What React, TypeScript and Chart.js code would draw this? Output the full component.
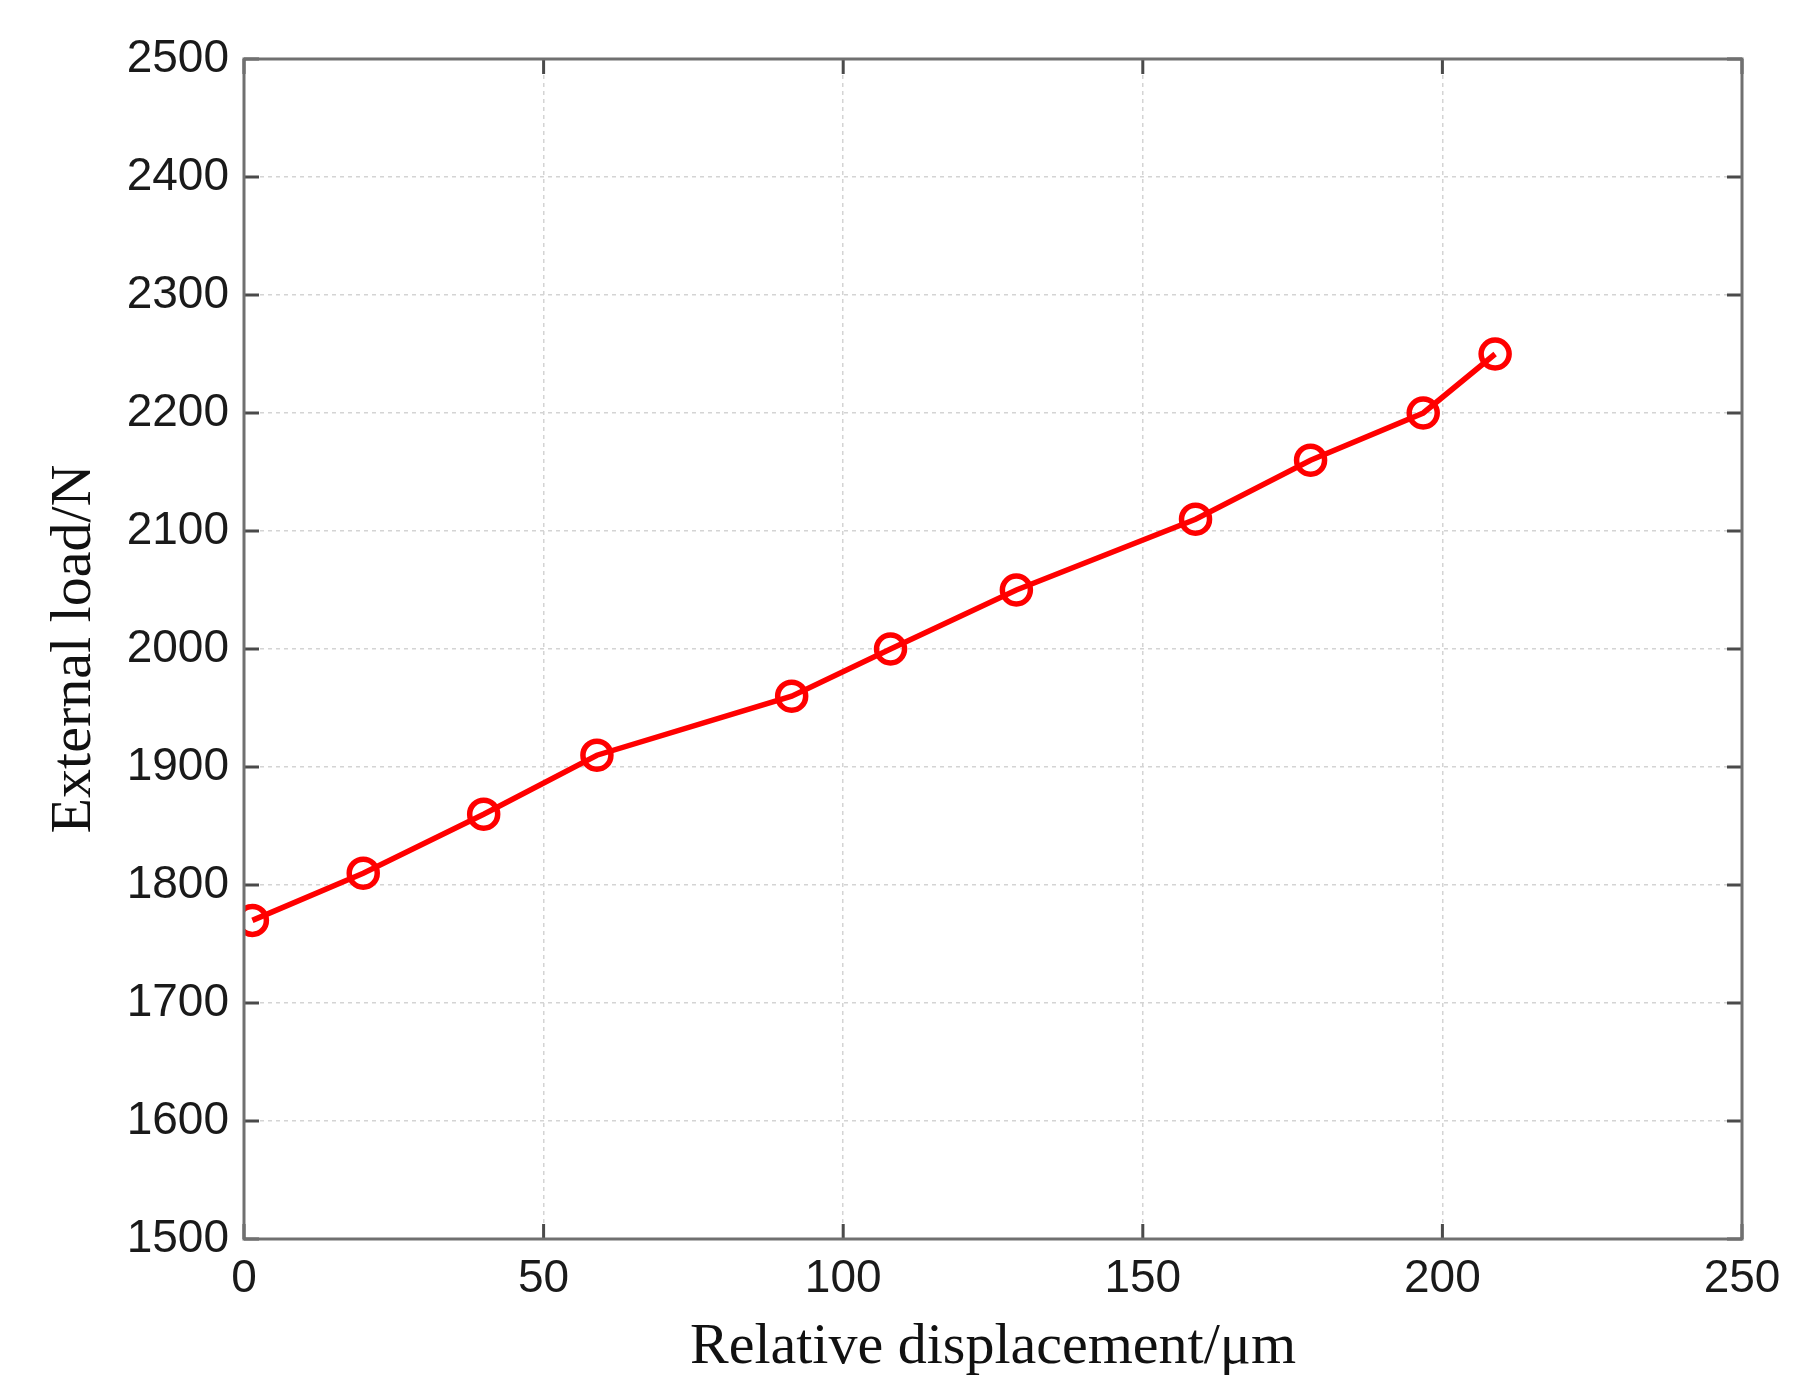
import { useEffect, useRef } from "react"
import { Chart, registerables } from "chart.js"

Chart.register(...registerables)

// Relative displacement (µm) vs external load (N)
const displacement = [1.4, 19.9, 40, 58.9, 91.4, 107.9, 128.9, 158.8, 178, 196.8, 208.8]
const externalLoad = [1770, 1810, 1860, 1910, 1960, 2000, 2050, 2110, 2160, 2200, 2250]

const xTicks = [0, 50, 100, 150, 200, 250]
const yTicks = [1500, 1600, 1700, 1800, 1900, 2000, 2100, 2200, 2300, 2400, 2500]

const SANS = "'Liberation Sans', Arial, sans-serif"
const SERIF = "'Liberation Serif', 'Times New Roman', serif"

// MATLAB-like box with inward ticks on all four sides
const boxPlugin = {
  id: "boxTicks",
  afterDraw(chart: Chart) {
    const { ctx, chartArea: a } = chart
    const xs = chart.scales.x
    const ys = chart.scales.y
    const len = 15
    ctx.save()
    ctx.strokeStyle = "#4a4a4a"
    ctx.lineWidth = 3
    xTicks.forEach((v) => {
      const px = xs.getPixelForValue(v)
      ctx.beginPath()
      ctx.moveTo(px, a.bottom)
      ctx.lineTo(px, a.bottom - len)
      ctx.moveTo(px, a.top)
      ctx.lineTo(px, a.top + len)
      ctx.stroke()
    })
    yTicks.forEach((v) => {
      const py = ys.getPixelForValue(v)
      ctx.beginPath()
      ctx.moveTo(a.left, py)
      ctx.lineTo(a.left + len, py)
      ctx.moveTo(a.right, py)
      ctx.lineTo(a.right - len, py)
      ctx.stroke()
    })
    ctx.strokeStyle = "#707070"
    ctx.lineWidth = 3
    ctx.strokeRect(a.left, a.top, a.right - a.left, a.bottom - a.top)
    ctx.restore()
  },
}

const App = () => {
  const canvasRef = useRef<HTMLCanvasElement>(null)

  useEffect(() => {
    document.body.style.margin = "0"
    if (!canvasRef.current) return
    const ctx = canvasRef.current.getContext("2d")
    if (!ctx) return

    const chart = new Chart(ctx, {
      type: "line",
      data: {
        datasets: [
          {
            data: displacement.map((x, i) => ({ x, y: externalLoad[i] })),
            borderColor: "#ff0000",
            borderWidth: 5.5,
            pointStyle: "circle",
            pointRadius: 14,
            pointBorderWidth: 5.5,
            pointBorderColor: "#ff0000",
            pointBackgroundColor: "rgba(0,0,0,0)",
            tension: 0,
          },
        ],
      },
      options: {
        responsive: true,
        maintainAspectRatio: false,
        animation: false,
        devicePixelRatio: 1,
        layout: { padding: { top: 59, right: 59, left: 0, bottom: 0 } },
        plugins: {
          legend: { display: false },
          tooltip: { enabled: false },
        },
        scales: {
          x: {
            type: "linear",
            min: 0,
            max: 250,
            afterBuildTicks: (scale: any) => {
              scale.ticks = xTicks.map((value) => ({ value }))
            },
            afterFit: (scale: any) => {
              scale.height = 161
            },
            grid: {
              color: "#d4d4d4",
              lineWidth: 1.5,
              drawTicks: false,
            },
            border: { display: false, dash: [4, 4] },
            ticks: {
              padding: 13,
              color: "#1a1a1a",
              font: { family: SANS, size: 46 },
              maxRotation: 0,
              callback: (v: any) => String(v),
            },
            title: {
              display: true,
              text: "Relative displacement/μm",
              color: "#111",
              font: { family: SERIF, size: 58 },
              padding: { top: 0, bottom: 17 },
            },
          },
          y: {
            type: "linear",
            min: 1500,
            max: 2500,
            afterBuildTicks: (scale: any) => {
              scale.ticks = yTicks.map((value) => ({ value }))
            },
            afterFit: (scale: any) => {
              scale.width = 244
            },
            grid: {
              color: "#d4d4d4",
              lineWidth: 1.5,
              drawTicks: false,
            },
            border: { display: false, dash: [4, 4] },
            ticks: {
              padding: 15,
              color: "#1a1a1a",
              font: { family: SANS, size: 46 },
              callback: (v: any) => String(v),
            },
            title: {
              display: true,
              text: "External load/N",
              color: "#111",
              font: { family: SERIF, size: 58 },
              padding: { top: 40, bottom: 0 },
            },
          },
        },
      },
      plugins: [boxPlugin],
    })

    return () => {
      chart.destroy()
    }
  }, [])

  return (
    <div style={{ width: 1801, height: 1400, position: "relative", background: "#fff" }}>
      <canvas ref={canvasRef} />
    </div>
  )
}

export default App
